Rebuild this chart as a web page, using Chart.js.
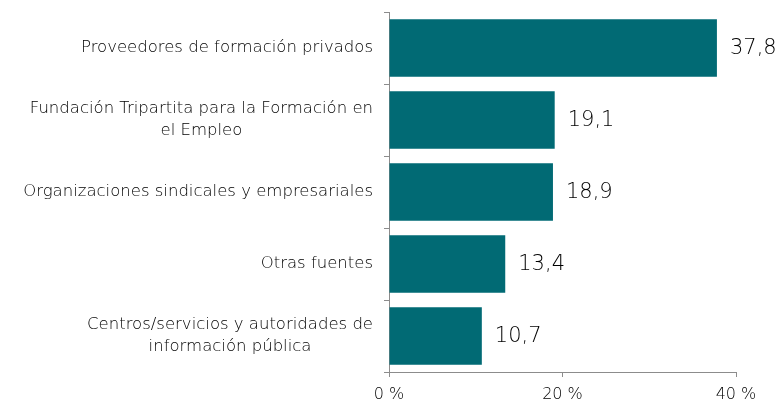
<!DOCTYPE html>
<html>
<head>
<meta charset="utf-8">
<script src="https://cdn.jsdelivr.net/npm/chart.js@4/dist/chart.umd.min.js"></script>
<style>
  html, body { margin: 0; padding: 0; background: #fff; }
  #wrap { width: 782px; height: 401px; }
</style>
</head>
<body>
<div id="wrap"><canvas id="fuentesChart"></canvas></div>
<script>
// Data
const categories = [
    ['Proveedores de formación privados'],
    ['Fundación Tripartita para la Formación en', 'el Empleo'],
    ['Organizaciones sindicales y empresariales'],
    ['Otras fuentes'],
    ['Centros/servicios y autoridades de', 'información pública']
];
const values = [37.8, 19.1, 18.9, 13.4, 10.7];
const xTicks = [0, 20, 40];

const textColor = '#000000';
const fontFamily = '"DejaVu Sans", sans-serif';
const labelFont = '200 16.5px ' + fontFamily;
const valueFont = '200 21px ' + fontFamily;

// Category labels: block right-aligned, lines centred within the block
const categoryLabels = {
    id: 'categoryLabels',
    afterDraw(chart) {
        const ctx = chart.ctx;
        const yScale = chart.scales.y;
        const right = chart.chartArea.left - 16;
        const lineH = 22;
        ctx.save();
        ctx.font = labelFont;
        ctx.fillStyle = textColor;
        ctx.textAlign = 'center';
        ctx.textBaseline = 'middle';
        categories.forEach(function(lines, i) {
            const y = yScale.getPixelForValue(i);
            const widest = Math.max.apply(null, lines.map(l => ctx.measureText(l).width));
            const cx = right - widest / 2;
            const top = y - (lines.length - 1) * lineH / 2;
            lines.forEach(function(l, j) {
                ctx.fillText(l, cx, top + j * lineH);
            });
        });
        ctx.restore();
    }
};

// Value labels at bar ends, decimal comma
const valueLabels = {
    id: 'valueLabels',
    afterDatasetsDraw(chart) {
        const ctx = chart.ctx;
        const meta = chart.getDatasetMeta(0);
        ctx.save();
        ctx.font = valueFont;
        ctx.fillStyle = textColor;
        ctx.textAlign = 'left';
        ctx.textBaseline = 'middle';
        meta.data.forEach(function(bar, i) {
            ctx.fillText(values[i].toFixed(1).replace('.', ','), bar.x + 13, bar.y + 1);
        });
        ctx.restore();
    }
};

const ctx = document.getElementById('fuentesChart');
new Chart(ctx, {
    type: 'bar',
    data: {
        labels: categories.map(l => l.join(' ')),
        datasets: [{
            data: values,
            backgroundColor: '#016a74',
            borderWidth: 0,
            barPercentage: 0.8,
            categoryPercentage: 1.0
        }]
    },
    options: {
        indexAxis: 'y',
        responsive: true,
        maintainAspectRatio: false,
        animation: false,
        layout: {
            padding: { top: 12, right: 46, left: 0, bottom: 0 }
        },
        plugins: {
            legend: { display: false },
            tooltip: { enabled: false }
        },
        scales: {
            x: {
                min: 0,
                max: 40,
                afterBuildTicks: function(scale) {
                    scale.ticks = xTicks.map(v => ({ value: v }));
                },
                afterFit: function(scale) {
                    scale.height = 29;
                },
                grid: {
                    drawOnChartArea: false,
                    drawTicks: true,
                    tickLength: 5,
                    color: '#8c8c8c'
                },
                border: { color: '#8c8c8c', width: 1 },
                ticks: {
                    color: textColor,
                    font: { family: fontFamily, size: 16, weight: 200 },
                    padding: 8,
                    maxRotation: 0,
                    callback: v => v + ' %'
                }
            },
            y: {
                afterFit: function(scale) {
                    scale.width = 389;
                },
                grid: {
                    drawOnChartArea: false,
                    drawTicks: true,
                    tickLength: 5,
                    offset: true,
                    color: '#8c8c8c'
                },
                border: { color: '#8c8c8c', width: 1 },
                ticks: { display: false }
            }
        }
    },
    plugins: [categoryLabels, valueLabels]
});
</script>
</body>
</html>
